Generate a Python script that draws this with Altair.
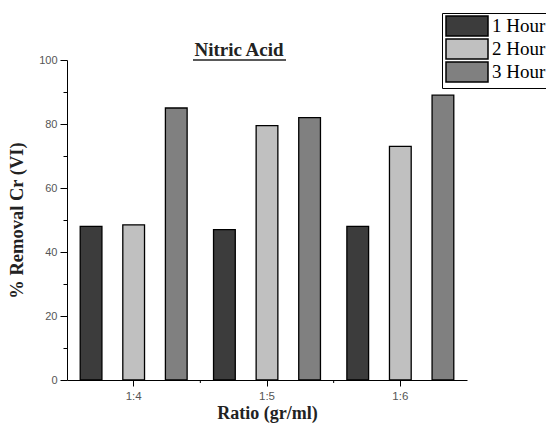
import altair as alt
import pandas as pd

ratios = ["1:4", "1:5", "1:6"]
hours = ["1 Hour", "2 Hour", "3 Hour"]
hour1 = [48.0, 47.0, 48.0]
hour2 = [48.5, 79.5, 73.0]
hour3 = [85.0, 82.0, 89.0]
colors = ["#3c3c3c", "#c0c0c0", "#808080"]
y_ticks = [0, 10, 20, 30, 40, 50, 60, 70, 80, 90, 100]
x_minor = ["1:5", "1:6"]

rows = []
for i, r in enumerate(ratios):
    for h, vals in zip(hours, [hour1, hour2, hour3]):
        rows.append({"ratio": r, "hour": h, "value": vals[i]})
df = pd.DataFrame(rows)
minor_df = pd.DataFrame({"ratio": x_minor})

serif = "Liberation Serif"
sans = "Liberation Sans"

x_scale = alt.Scale(domain=ratios, paddingInner=0, paddingOuter=0)
x_axis = alt.Axis(title="Ratio (gr/ml)", labelAngle=0, labelFont=sans,
                  labelFontSize=11.5, labelColor="#555555", labelPadding=4,
                  tickSize=6, tickColor="black", domainColor="black",
                  titleFont=serif, titleFontSize=18, titleFontWeight="bold",
                  titleColor="#222222", titlePadding=3)

bars = alt.Chart(df).mark_bar(stroke="black", strokeWidth=1.3).encode(
    x=alt.X("ratio:N", scale=x_scale, sort=ratios, axis=x_axis),
    xOffset=alt.XOffset("hour:N", sort=hours,
                        scale=alt.Scale(paddingInner=0.49, paddingOuter=0.31)),
    y=alt.Y("value:Q", scale=alt.Scale(domain=[0, 100], nice=False),
            axis=alt.Axis(title="% Removal Cr (VI)", values=y_ticks, grid=False,
                          labelExpr="datum.value % 20 == 0 ? datum.label : ''",
                          tickSize=alt.condition("datum.value % 20 == 0", alt.value(7), alt.value(4)),
                          tickColor="black", domainColor="black",
                          labelFont=sans, labelFontSize=11, labelColor="#555555",
                          labelPadding=3, titleFont=serif, titleFontSize=18.5,
                          titleFontWeight="bold", titleColor="#222222", titlePadding=12)),
    color=alt.Color("hour:N", sort=hours,
                    scale=alt.Scale(domain=hours, range=colors),
                    legend=alt.Legend(title=None, orient="none", legendX=375, legendY=-47,
                                      symbolType="M-1,-1.1H3.667V1.1H-1Z", symbolSize=324,
                                      symbolStrokeColor="black", symbolStrokeWidth=1.5,
                                      symbolOpacity=1, labelOffset=27,
                                      labelFont=serif, labelFontSize=19, labelColor="black",
                                      rowPadding=-4, padding=3, strokeColor="black",
                                      fillColor="white")),
)

minor_x = alt.Chart(minor_df).mark_rule(color="black", strokeWidth=1).encode(
    x=alt.X("ratio:N", scale=x_scale, sort=ratios, bandPosition=0, axis=x_axis),
    y=alt.value(320),
    y2=alt.value(323),
)

title_text = alt.Chart(pd.DataFrame({"t": ["Nitric Acid"]})).mark_text(
    font=serif, fontSize=19, fontWeight="bold", color="#222222", baseline="alphabetic"
).encode(text="t:N", x=alt.value(172), y=alt.value(-4))

underline = alt.Chart(pd.DataFrame({"t": ["Nitric Acid"]})).mark_rule(
    color="#222222", strokeWidth=1.5
).encode(x=alt.value(126), x2=alt.value(219), y=alt.value(0))

chart = alt.layer(bars, minor_x, title_text, underline).properties(
    width=400, height=320,
    autosize=alt.AutoSizeParams(type="none"),
    padding={"left": 67, "top": 60, "right": 79, "bottom": 54},
).configure(background="white").configure_view(stroke=None)

chart.save("out.html", embed_options={"renderer": "svg", "actions": False})
